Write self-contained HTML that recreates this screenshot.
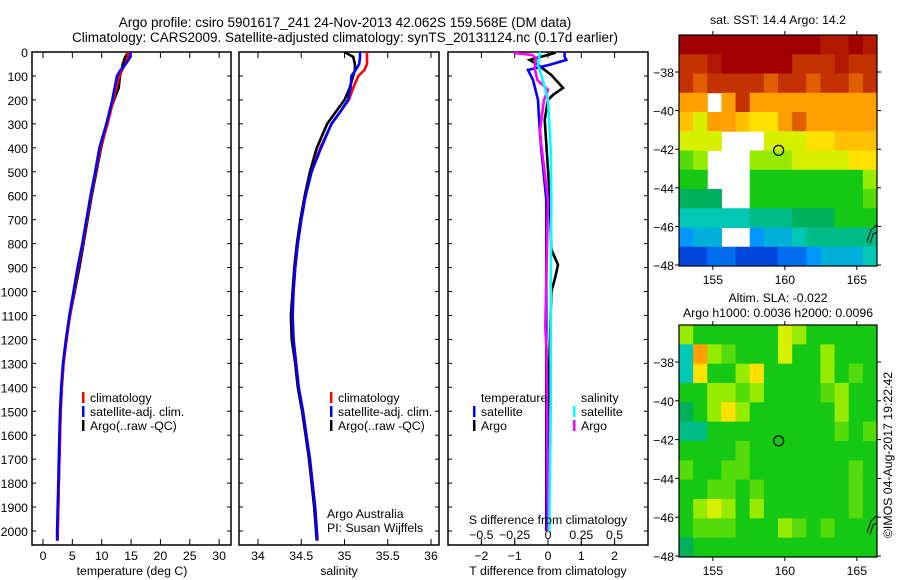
<!DOCTYPE html>
<html><head><meta charset="utf-8"><style>
body{margin:0;background:#fff;}
svg{display:block;font-family:"Liberation Sans",sans-serif;}
text{fill:#000;font-size:12.3px;}
</style></head><body>
<svg id="c" width="900" height="580" viewBox="0 0 900 580" xmlns="http://www.w3.org/2000/svg">
<text x="345" y="27" text-anchor="middle" style="font-size:13.5px">Argo profile: csiro 5901617_241 24-Nov-2013 42.062S 159.568E (DM data)</text>
<text x="345" y="42" text-anchor="middle" style="font-size:13.5px">Climatology: CARS2009. Satellite-adjusted climatology: synTS_20131124.nc (0.17d earlier)</text>
<g id="plots"></g>
<text x="132" y="575" text-anchor="middle">temperature (deg C)</text>
<text x="339" y="575" text-anchor="middle">salinity</text>
<text x="548" y="575" text-anchor="middle">T difference from climatology</text>
<text x="548" y="524" text-anchor="middle">S difference from climatology</text>
<text x="327" y="518">Argo Australia</text>
<text x="327" y="532">PI: Susan Wijffels</text>
<text x="778" y="24" text-anchor="middle">sat. SST: 14.4 Argo: 14.2</text>
<text x="778" y="302" text-anchor="middle">Altim. SLA: -0.022</text>
<text x="778" y="317" text-anchor="middle">Argo h1000: 0.0036 h2000: 0.0096</text>
<text transform="translate(892,455) rotate(-90)" text-anchor="middle">©IMOS 04-Aug-2017 19:22:42</text>
</svg>
<script>
// ---- data ----
const depths=[0,20,50,75,100,150,200,250,300,400,500,600,700,800,900,1000,1100,1200,1300,1400,1500,1600,1700,1800,1900,2000,2040];
const tClim=[14.5,14.5,14.0,13.5,13.0,12.5,12.0,11.5,11.0,9.8,9.0,8.2,7.5,6.8,6.0,5.3,4.6,4.0,3.5,3.2,3.0,2.9,2.8,2.7,2.6,2.5,2.5];
const tSat=[14.9,14.9,14.1,13.2,12.6,12.2,11.8,11.3,10.8,9.6,8.9,8.1,7.4,6.7,5.9,5.2,4.5,3.9,3.4,3.1,2.9,2.8,2.7,2.6,2.5,2.4,2.4];
const tArgo=[14.6,14.0,13.6,13.4,13.1,12.9,12.1,11.4,10.9,9.9,9.1,8.3,7.6,6.9,6.2,5.4,4.6,4.0,3.5,3.2,3.0,2.9,2.8,2.7,2.6,2.5,2.5];
const sClim=[35.26,35.26,35.26,35.23,35.16,35.1,35.05,34.95,34.85,34.72,34.62,34.55,34.5,34.46,34.43,34.41,34.40,34.41,34.44,34.47,34.52,34.56,34.6,34.63,34.66,34.68,34.69];
const sSat=[35.18,35.18,35.17,35.13,35.08,35.07,35.04,34.95,34.85,34.73,34.62,34.55,34.5,34.46,34.43,34.41,34.40,34.41,34.44,34.47,34.52,34.56,34.6,34.63,34.66,34.68,34.68];
const sArgo=[35.0,35.1,35.12,35.12,35.1,35.06,35.0,34.9,34.8,34.68,34.6,34.54,34.49,34.45,34.42,34.40,34.38,34.39,34.43,34.46,34.51,34.55,34.59,34.62,34.65,34.67,34.68];
const dDepthTSat=[0,20,33,55,75,117,200,325,408,617,1000,1500,2000];
const dTSat=[0.5,0.5,0.55,0,-0.6,-0.45,-0.3,-0.25,-0.2,-0.05,-0.05,-0.05,-0.05];
const dDepthTArgo=[0,4,33,54,96,150,179,200,283,600,825,888,950,1000,1500,2000];
const dTArgo=[0.2,0.2,-0.55,-0.3,0.1,0.45,0.15,0,-0.1,0.05,0.1,0.3,0.2,0.1,0,0];
const dDepthSSat=[0,54,117,200,408,617,1000,1500,2000];
const dSSat=[-0.06,-0.075,-0.04,0,0.02,0.025,0.02,0.02,0.01];
const dDepthSArgo=[0,4,12,25,67,117,158,200,325,387,617,1150,1250,2000];
const dSArgo=[-0.25,-0.25,-0.12,-0.09,-0.1,-0.08,0,-0.03,-0.06,-0.05,0,-0.02,-0.01,0];
const depthTicks=[0,100,200,300,400,500,600,700,800,900,1000,1100,1200,1300,1400,1500,1600,1700,1800,1900,2000];
const tTicks=[0,5,10,15,20,25,30];
const sTicks=[34,34.5,35,35.5,36];
const dtTicks=[-2,-1,0,1,2];
const dsTicks=[-0.5,-0.25,0,0.25,0.5];
const lonTicks=[155,160,165];
const latTicks=[-38,-40,-42,-44,-46,-48];
const sstGrid=[
[10,10,10,10,10,10,10,10,10,10,9.5,9.5,10,9.5],
[9,9,9.5,10,10,10,10,10,9,9,9,9.5,9,9],
[9,8.5,9,9,9,9,8.5,9,9,8.5,9,9,8.5,9],
[8,8,null,8,9,8,8,8,8,8,8,8,8,8],
[7.5,6.5,8,8,7.5,7,7,8,8.5,8,8,8,8,8],
[6.5,6.5,6.5,null,null,null,6.5,6.5,6.5,7,7,7.5,7.5,7.5],
[5.5,6,null,null,null,6,6,6,6.5,6.5,6.5,6.5,7,7],
[5,5,null,null,null,5,5,5,5,5,5,5,5,6],
[4.5,4.5,4.5,null,null,5,5,5,5,5,5,5,5,5.5],
[3.5,3.5,3.5,3.5,3.5,4,4,4,4.5,4.5,4.5,5,5,5],
[2.5,3,3,null,null,2.5,3,3,3.5,4,4,4,4,4],
[1.5,1.5,2,2,1.5,1.5,1.5,2,2,2.5,3,3,3,3.5]];
const slaGrid=[
[6,5,5,5,5,5,5,6.5,6,5,5,5,5,5],
[3.5,8,6,5.5,5,5,5,6.5,5,5,6,5,5,5],
[3.5,7,5,5,6,7,5,5,5,5,6,5,5.5,5],
[5,5,6,6,5.5,6,5,5,5,5,5.5,6,5,5],
[4.5,5,6,7,6,5,5,5,5,5,5,6,5,5],
[4,4,5,5,5,5,5,5,5,5,5,5.5,5,5.5],
[5,5,5,5,5.5,5,5,5,5,5,5,5,5,5],
[5.5,5,5,5.5,5.5,5,5,5,5,5,5,5,5.5,5],
[5,5,5.5,5.5,5,5.5,5,5,5,5,5,5,5.5,5],
[5,6,6.5,6,5,6,5,5,5,5,5,5,5.5,5],
[5,5.5,5.5,5.5,5,5,5,6,5.5,5,5.5,5,5,5],
[4.5,5,5,5,5,5,5,5,5,5,5,5,5,5]];
const argoLon=159.568, argoLat=-42.062;

// ---- helpers ----
const NS='http://www.w3.org/2000/svg';
const root=document.getElementById('plots');
function mk(tag,attrs,parent){const e=document.createElementNS(NS,tag);for(const k in attrs)e.setAttribute(k,attrs[k]);(parent||root).appendChild(e);return e;}
const Y0=52,YS=0.2395;
const yD=d=>Y0+d*YS;
const xT=v=>43+v*5.87;
const xS=v=>258+(v-34)*86.5;
const xDT=v=>548+v*33.3;
const xDS=v=>548+v*133.2;
function panel(x0,x1,name){
  const r=mk('rect',{x:x0,y:52,width:x1-x0,height:493,fill:'none',stroke:'#000','stroke-width':1.5});
  
  
}
function series(xs,ds,fx,col,name){
  const pts=xs.map((v,i)=>fx(v).toFixed(1)+','+yD(ds[i]).toFixed(1)).join(' ');
  const p=mk('polyline',{points:pts,fill:'none',stroke:col,'stroke-width':2.6});
  
  
}
function xticks(ticks,fx,labels,ly){
  ticks.forEach(t=>{const x=fx(t);
    mk('line',{x1:x,x2:x,y1:545,y2:539,stroke:'#000'});
    mk('line',{x1:x,x2:x,y1:52,y2:58,stroke:'#000'});
    if(labels){const tx=mk('text',{x:x,y:ly,'text-anchor':'middle'});tx.textContent=String(t).replace('-','\u2212');
      
      }
  });
}
function legend(x,y,items){
  items.forEach((it,i)=>{
    mk('rect',{x:x,y:y+i*14-10,width:2.5,height:11,fill:it[1]});
    const t=mk('text',{x:x+8,y:y+i*14});t.textContent=it[0];
    
    
  });
}
// panels
panel(32,231,'temperature-panel');panel(239,439,'salinity-panel');panel(448,648,'difference-panel');
depthTicks.forEach(d=>{const y=yD(d);
  [[32,36],[231,227],[239,243],[439,435],[448,452],[648,644]].forEach(p=>mk('line',{x1:p[0],x2:p[1],y1:y,y2:y,stroke:'#000'}));
  const t=mk('text',{x:28,y:y+5,'text-anchor':'end'});t.textContent=d;
  
  
});
xticks(tTicks,xT,true,560);xticks(sTicks,xS,true,560);xticks(dtTicks,xDT,true,560);
dsTicks.forEach(t=>{const x=xDS(t);mk('line',{x1:x,x2:x,y1:545,y2:541,stroke:'#000'});
  const tx=mk('text',{x:x,y:539,'text-anchor':'middle'});tx.textContent=String(t).replace('-','\u2212');
  
  });
// series
series(tArgo,depths,xT,'#000','temp-argo-line');
series(tClim,depths,xT,'#f00','temp-climatology-line');
series(tSat,depths,xT,'#00f','temp-satellite-line');
series(sArgo,depths,xS,'#000','sal-argo-line');
series(sClim,depths,xS,'#f00','sal-climatology-line');
series(sSat,depths,xS,'#00f','sal-satellite-line');
series(dTArgo,dDepthTArgo,xDT,'#000','tdiff-argo-line');
series(dTSat,dDepthTSat,xDT,'#00f','tdiff-satellite-line');
series(dSArgo,dDepthSArgo,xDS,'#f0f','sdiff-argo-line');
series(dSSat,dDepthSSat,xDS,'#0ff','sdiff-satellite-line');
legend(82,402,[['climatology','#f00'],['satellite-adj. clim.','#00f'],['Argo(..raw -QC)','#000']]);
legend(330,402,[['climatology','#f00'],['satellite-adj. clim.','#00f'],['Argo(..raw -QC)','#000']]);
{const t=mk('text',{x:481,y:402});t.textContent='temperature';
 
 
 const s=mk('text',{x:581,y:402});s.textContent='salinity';
 
 }
legend(473,416,[['satellite','#00f'],['Argo','#000']]);
legend(573,416,[['satellite','#0ff'],['Argo','#f0f']]);
// maps
const stops=[[0,[0,0,150]],[1.5,[0,70,220]],[2.5,[0,150,255]],[3.5,[0,200,180]],[4.5,[0,176,90]],[5,[20,200,20]],[6,[150,235,0]],[6.5,[215,240,0]],[7,[255,225,0]],[8,[255,160,0]],[8.5,[225,95,0]],[9,[195,50,0]],[10,[160,0,0]]];
function col(v){for(let i=1;i<stops.length;i++){if(v<=stops[i][0]){const a=stops[i-1],b=stops[i],f=(v-a[0])/(b[0]-a[0]);return 'rgb('+a[1].map((c,k)=>Math.round(c+(b[1][k]-c)*f)).join(',')+')';}}return 'rgb(160,0,0)';}
function map(grid,top,lat38y,lat48y,name){
  const L=679,R=877,lon0=152.65,lon1=166.4;
  const xl=lon=>L+(lon-lon0)/(lon1-lon0)*(R-L);
  const pl=(lat48y-lat38y)/10;
  const yl=lat=>lat38y+(-38-lat)*pl;
  const g=mk('g',{});
  
  
  const bottom=lat48y+1;
  const rows=grid.length,cols=grid[0].length,cw=(R-L)/cols,rh=(bottom-top)/rows;
  grid.forEach((row,r)=>row.forEach((v,c)=>{if(v===null)return;
    const cell=mk('rect',{x:L+c*cw,y:top+r*rh,width:cw+0.5,height:rh+0.5,fill:col(v)},g);
    
    }));
  mk('rect',{x:L,y:top,width:R-L,height:bottom-top,fill:'none',stroke:'#000','stroke-width':1.2},g);
  lonTicks.forEach(l=>{const x=xl(l);mk('line',{x1:x,x2:x,y1:top,y2:top-4,stroke:'#000'},g);mk('line',{x1:x,x2:x,y1:bottom,y2:bottom+4,stroke:'#000'},g);
    const t=mk('text',{x:x,y:bottom+18,'text-anchor':'middle'},g);t.textContent=l;
    
    });
  latTicks.forEach(l=>{const y=yl(l);mk('line',{x1:L,x2:L-4,y1:y,y2:y,stroke:'#000'},g);mk('line',{x1:R,x2:R+4,y1:y,y2:y,stroke:'#000'},g);
    const t=mk('text',{x:L-5,y:y+5,'text-anchor':'end'},g);t.textContent=String(l).replace('-','\u2212');
    
    });
  const c=mk('circle',{cx:xl(argoLon),cy:yl(argoLat),r:5,fill:'none',stroke:'#000','stroke-width':1.2},g);
  
  
  mk('path',{d:`M${R-10} ${yl(-46.8)} L${R-6} ${yl(-46.2)} L${R} ${yl(-45.9)} M${R-7} ${yl(-46.9)} L${R-4} ${yl(-46.4)} L${R} ${yl(-46.3)}`,fill:'none',stroke:'#000'},g);
}
map(sstGrid,35,72,265,'sst-map');
map(slaGrid,325,362,556,'sla-map');
</script>
</body></html>
